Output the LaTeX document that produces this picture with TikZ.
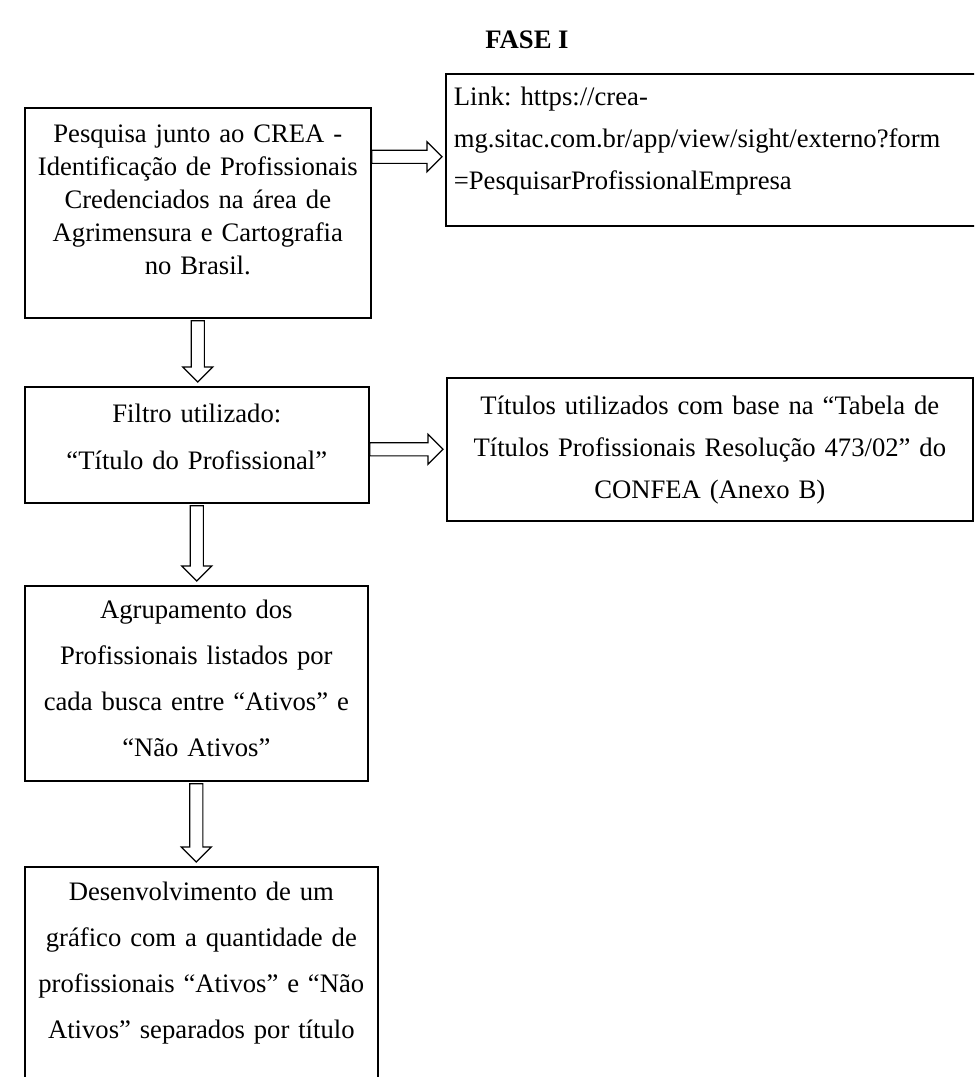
\documentclass[tikz,border=0pt]{standalone}
\usepackage{fontspec}
\setmainfont{Liberation Serif}
\usetikzlibrary{calc}
\frenchspacing

\begin{document}
\begin{tikzpicture}[x=0.75pt, y=-0.75pt,
  box/.style={draw, line width=1.25pt, inner sep=0pt, align=center, anchor=north west},
  dnarrow/.style={draw, line width=0.9pt, to path={let \p1=(\tikztostart), \p2=(\tikztotarget) in
    (\x1-4.9pt,\y1-1.5pt) -- (\x1-4.9pt,\y2+14.25pt) -- (\x1-11.25pt,\y2+14.25pt) -- (\x1,\y2+3pt)
    -- (\x1+11.25pt,\y2+14.25pt) -- (\x1+4.9pt,\y2+14.25pt) -- (\x1+4.9pt,\y1-1.5pt) -- cycle}},
  rtarrow/.style={draw, line width=0.9pt, to path={let \p1=(\tikztostart), \p2=(\tikztotarget) in
    (\x1,\y2+4.9pt) -- (\x2-13.5pt,\y2+4.9pt) -- (\x2-13.5pt,\y2+11.25pt) -- (\x2-2.25pt,\y2)
    -- (\x2-13.5pt,\y2-11.25pt) -- (\x2-13.5pt,\y2-4.9pt) -- (\x1,\y2-4.9pt) -- cycle}},
]
\path[use as bounding box, clip] (0,0) rectangle (974,1077);

\node[font=\fontsize{20}{24}\selectfont\bfseries] (fase) at (527,40) {FASE I};

\node[box, text width=259.5pt, text height=26.25pt, text depth=131.25pt,
      font=\fontsize{20}{24.75}\selectfont] (pesq) at (24,107)
  {Pesquisa junto ao CREA -\\Identificação de Profissionais\\Credenciados na área de\\Agrimensura e Cartografia\\no Brasil.};
\node[box, align=left, inner xsep=6pt, text width=404pt, text height=24pt, text depth=90pt,
      font=\fontsize{20}{31.5}\selectfont] (link) at (445,73)
  {Link: https://crea-\\mg.sitac.com.br/app/view/sight/externo?form\\=PesquisarProfissionalEmpresa};
\node[box, text width=258pt, text height=27pt, text depth=60pt,
      font=\fontsize{20}{35.25}\selectfont] (filtro) at (24,386)
  {Filtro utilizado:\\“Título do Profissional”};
\node[box, text width=394.5pt, text height=27.75pt, text depth=79.5pt,
      font=\fontsize{20}{31.5}\selectfont] (titulos) at (446,377)
  {Títulos utilizados com base na “Tabela de\\Títulos Profissionais Resolução 473/02” do\\CONFEA (Anexo B)};
\node[box, text width=257.25pt, text height=24.75pt, text depth=121.5pt,
      font=\fontsize{20}{34.5}\selectfont] (agrup) at (24,585)
  {Agrupamento dos\\Profissionais listados por\\cada busca entre “Ativos” e\\“Não Ativos”};
\node[box, text width=264.75pt, text height=25.5pt, text depth=170pt,
      font=\fontsize{20}{34.5}\selectfont] (desenv) at (24,866)
  {Desenvolvimento de um\\gráfico com a quantidade de\\profissionais “Ativos” e “Não\\Ativos” separados por título};

% setas
\draw[rtarrow] (pesq.east) to ([yshift=-5.25pt]link.west);
\draw[rtarrow] (filtro.east) to (titulos.west);
\draw[dnarrow] (pesq.south) to (filtro.north);
\draw[dnarrow] (filtro.south) to (agrup.north);
\draw[dnarrow] (agrup.south) to (desenv.north);
\end{tikzpicture}
\end{document}
